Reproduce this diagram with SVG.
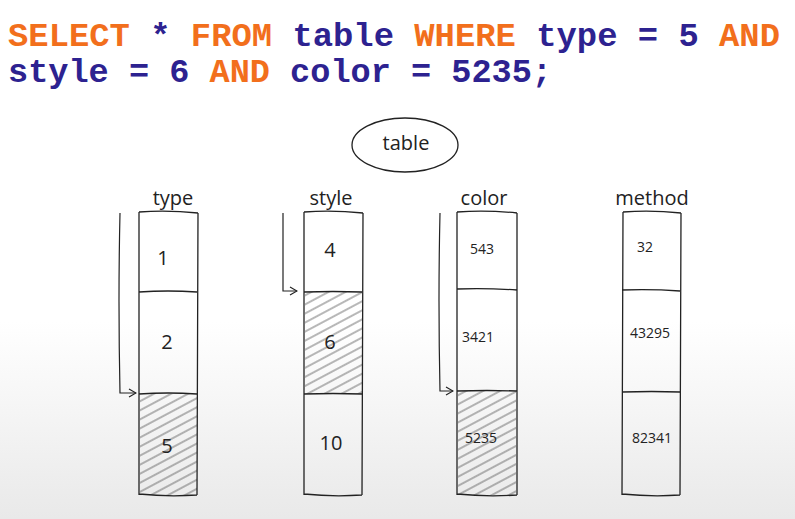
<svg xmlns="http://www.w3.org/2000/svg" width="795" height="519" viewBox="0 0 795 519">
<defs>
<linearGradient id="bg" x1="0" y1="0" x2="0" y2="1">
<stop offset="0" stop-color="#ffffff"/>
<stop offset="0.62" stop-color="#ffffff"/>
<stop offset="1" stop-color="#e9e9e9"/>
</linearGradient>
<pattern id="hatch" patternUnits="userSpaceOnUse" width="8" height="8" patternTransform="rotate(-28)">
<line x1="0" y1="4" x2="8" y2="4" stroke="#444" stroke-width="0.9"/>
</pattern>
<marker id="arr" viewBox="0 0 10 10" refX="9" refY="5" markerWidth="10" markerHeight="10" markerUnits="userSpaceOnUse" orient="auto">
<polyline points="2,1 9,5 2,9" fill="none" stroke="#222" stroke-width="1.2"/>
</marker>
</defs>
<style>
.sql{font-family:"Liberation Mono","DejaVu Sans Mono",monospace;font-weight:bold;font-size:33px}
.kw{fill:#f26f1c}
.id{fill:#2d2290}
.col{fill:none;stroke:#222;stroke-width:1.3}
.lbl{font-family:"Open Sans","DejaVu Sans",sans-serif;font-size:20px;fill:#222;text-anchor:middle}
.val{font-family:"Open Sans","DejaVu Sans",sans-serif;font-size:20px;fill:#222;text-anchor:middle}
.sval{font-family:"Open Sans","DejaVu Sans",sans-serif;font-size:14px;fill:#222;text-anchor:middle}
.conn{fill:none;stroke:#222;stroke-width:1.2}
.shade{fill:url(#hatch);opacity:0.85}
</style>
<rect x="0" y="0" width="795" height="519" fill="url(#bg)"/>

<g id="sql">
<text class="sql" x="8" y="46" textLength="772" lengthAdjust="spacingAndGlyphs"><tspan class="kw">SELECT</tspan><tspan class="id"> * </tspan><tspan class="kw">FROM</tspan><tspan class="id"> table </tspan><tspan class="kw">WHERE</tspan><tspan class="id"> type = 5 </tspan><tspan class="kw">AND</tspan></text>
<text class="sql" x="8" y="82" textLength="544" lengthAdjust="spacingAndGlyphs"><tspan class="id">style = 6 </tspan><tspan class="kw">AND</tspan><tspan class="id"> color = 5235;</tspan></text>
</g>

<g id="table">
<ellipse cx="405" cy="145" rx="53" ry="27" class="col"/>
<text class="lbl" x="406" y="150">table</text>
</g>

<g id="col-type">
<text class="lbl" x="173" y="205">type</text>
<rect class="shade" x="140" y="394" width="57" height="101"/>
<path class="col" d="M139,212 Q168,210 198,213 M139,212 L139,495 M198,213 L197,495 M139,292 Q168,290 197,292 M139,394 Q168,392 197,394 M139,494 Q168,497 197,495"/>
<text class="val" x="163" y="265">1</text>
<text class="val" x="167" y="349">2</text>
<text class="val" x="167" y="453">5</text>
</g>

<g id="col-style">
<text class="lbl" x="331" y="205">style</text>
<rect class="shade" x="305" y="292" width="57" height="102"/>
<path class="col" d="M304,212 Q333,210 363,213 M304,212 L304,495 M363,213 L362,495 M304,292 Q333,291 362,292 M304,394 Q333,393 362,394 M304,494 Q333,497 362,495"/>
<text class="val" x="330" y="257">4</text>
<text class="val" x="330" y="349">6</text>
<text class="val" x="331" y="450">10</text>
</g>

<g id="col-color">
<text class="lbl" x="484" y="205">color</text>
<rect class="shade" x="458" y="391" width="58" height="104"/>
<path class="col" d="M457,212 Q487,210 517,213 M457,212 L457,495 M517,213 L517,495 M457,289 Q487,288 517,290 M457,391 Q487,390 517,391 M457,494 Q487,497 517,495"/>
<text class="sval" x="482" y="254">543</text>
<text class="sval" x="478" y="342">3421</text>
<text class="sval" x="481" y="443">5235</text>
</g>

<g id="col-method">
<text class="lbl" x="652" y="205">method</text>
<path class="col" d="M623,212 Q652,210 681,213 M623,212 L622,495 M681,213 L680,495 M622,290 Q652,289 680,291 M622,392 Q652,391 680,392 M622,494 Q652,497 680,495"/>
<text class="sval" x="645" y="252">32</text>
<text class="sval" x="650" y="338">43295</text>
<text class="sval" x="652" y="443">82341</text>
</g>

<g id="connectors">
<path class="conn" d="M120,213 Q118,300 120,393 L136,393" marker-end="url(#arr)"/>
<path class="conn" d="M283,213 L283,291 L297,291" marker-end="url(#arr)"/>
<path class="conn" d="M440,213 Q438,300 440,391 L453,391" marker-end="url(#arr)"/>
</g>
</svg>
